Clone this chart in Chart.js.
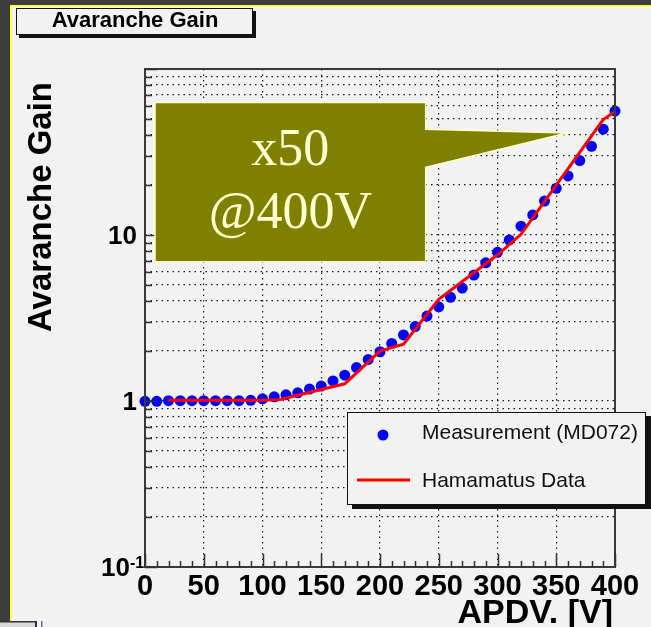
<!DOCTYPE html>
<html>
<head>
<meta charset="utf-8">
<script src="https://cdn.jsdelivr.net/npm/chart.js@4/dist/chart.umd.min.js"></script>
<style>
  html, body { margin: 0; padding: 0; background: #f2f2f2; overflow: hidden; }
  canvas { display: block; }
</style>
</head>
<body>
<canvas id="gainChart" width="651" height="627"></canvas>
<script>
// APD bias voltage [V] of each measured point
const voltages = [0, 10, 20, 30, 40, 50, 60, 70, 80, 90,
                  100, 110, 120, 130, 140, 150, 160, 170, 180, 190,
                  200, 210, 220, 230, 240, 250, 260, 270, 280, 290,
                  300, 310, 320, 330, 340, 350, 360, 370, 380, 390, 400];
// Measured avalanche gain (MD072)
const measuredGain = [0.995, 0.995, 1.005, 1.005, 1.005, 1.005, 1.005, 1.005, 1.005, 1.01,
                      1.03, 1.06, 1.09, 1.12, 1.18, 1.23, 1.32, 1.43, 1.59, 1.78,
                      1.98, 2.22, 2.5, 2.81, 3.25, 3.69, 4.21, 4.79, 5.74, 6.8,
                      7.87, 9.33, 11.3, 13.2, 16.0, 19.1, 22.7, 28.1, 34.2, 43.4, 55.8];
// Manufacturer reference curve
const hamaVoltage = [20, 50, 100, 115, 170, 200, 220, 250, 300, 320, 390, 400];
const hamaGain = [1.01, 1.01, 1.01, 1.02, 1.27, 2.0, 2.2, 4.1, 7.6, 10.1, 49.6, 55.5];

// Axis ticks
const xTickValues = [0, 50, 100, 150, 200, 250, 300, 350, 400];
const xMinorTickValues = [10, 20, 30, 40, 60, 70, 80, 90, 110, 120, 130, 140, 160, 170, 180, 190,
                          210, 220, 230, 240, 260, 270, 280, 290, 310, 320, 330, 340, 360, 370, 380, 390];
const yGridValues = [0.1, 0.2, 0.3, 0.4, 0.5, 0.6, 0.7, 0.8, 0.9,
                     1, 2, 3, 4, 5, 6, 7, 8, 9,
                     10, 20, 30, 40, 50, 60, 70, 80, 90, 100];
const yMajorValues = [0.1, 1, 10, 100];
const yTickLabels = [
  { value: 0.1, base: '10', sup: '-1' },
  { value: 1, base: '1', sup: '' },
  { value: 10, base: '10', sup: '' }
];

const plotTitle = 'Avaranche Gain';
const yAxisTitle = 'Avaranche Gain';
const xAxisTitle = 'APDV. [V]';
const calloutLines = ['x50', '@400V'];

const SANS = '"Liberation Sans", Arial, Helvetica, sans-serif';
const SERIF = '"Liberation Serif", "Times New Roman", serif';

const decorations = {
  id: 'decorations',
  beforeDraw(chart) {
    const ctx = chart.ctx;
    const W = chart.width, H = chart.height;
    ctx.save();
    // pad background and window edges
    ctx.fillStyle = '#f2f2f2';
    ctx.fillRect(0, 0, W, H);
    ctx.fillStyle = '#3d3d3d';
    ctx.fillRect(0, 0, W, 5);
    ctx.fillRect(0, 0, 10, H);
    ctx.fillStyle = '#ffff3a';
    ctx.fillRect(10, 5, W - 10, 2);
    ctx.fillRect(10, 5, 2, 617);
    // small widget in the lower-left corner
    ctx.fillStyle = '#d8d8d8';
    ctx.fillRect(0, 622, 36, 5);
    ctx.fillStyle = '#333';
    ctx.fillRect(0, 621, 37, 1.5);
    ctx.fillRect(35, 621, 2, 6);
    ctx.fillStyle = '#6a6aa8';
    ctx.fillRect(41, 621, 1.5, 6);

    // title box with shadow
    ctx.fillStyle = '#111';
    ctx.fillRect(19, 11, 237, 27);
    ctx.fillStyle = '#f2f2f2';
    ctx.fillRect(16, 8, 237, 27);
    ctx.strokeStyle = '#111';
    ctx.lineWidth = 1;
    ctx.strokeRect(16.5, 8.5, 236, 26);
    ctx.fillStyle = '#000';
    ctx.font = 'bold 22px ' + SANS;
    ctx.textAlign = 'center';
    ctx.textBaseline = 'alphabetic';
    ctx.fillText(plotTitle, 135, 27);
    ctx.restore();
  },
  afterDraw(chart) {
    const ctx = chart.ctx;
    const a = chart.chartArea;
    const xs = chart.scales.x, ys = chart.scales.y;
    ctx.save();

    // frame
    ctx.strokeStyle = '#3a3a3a';
    ctx.lineWidth = 2;
    ctx.strokeRect(a.left, a.top, a.right - a.left, a.bottom - a.top);

    // inward ticks
    ctx.strokeStyle = '#333';
    ctx.lineWidth = 1.5;
    ctx.beginPath();
    xTickValues.forEach(v => {
      const px = Math.round(xs.getPixelForValue(v)) + 0.5;
      ctx.moveTo(px, a.bottom); ctx.lineTo(px, a.bottom - 13);
    });
    xMinorTickValues.forEach(v => {
      const px = Math.round(xs.getPixelForValue(v)) + 0.5;
      ctx.moveTo(px, a.bottom); ctx.lineTo(px, a.bottom - 6);
    });
    yGridValues.forEach(v => {
      const py = Math.round(ys.getPixelForValue(v)) + 0.5;
      const len = yMajorValues.includes(v) ? 12 : 7;
      ctx.moveTo(a.left, py); ctx.lineTo(a.left + len, py);
    });
    ctx.stroke();

    // tick labels
    ctx.fillStyle = '#000';
    ctx.font = 'bold 29px ' + SANS;
    ctx.textAlign = 'center';
    ctx.textBaseline = 'alphabetic';
    xTickValues.forEach(v => {
      ctx.fillText(String(v), xs.getPixelForValue(v), 595);
    });
    yTickLabels.forEach(t => {
      const py = ys.getPixelForValue(t.value);
      if (t.sup) {
        ctx.font = 'bold 26px ' + SANS;
        ctx.textAlign = 'right';
        ctx.fillText(t.base, 130, py + 9.3);
        ctx.font = 'bold 16px ' + SANS;
        ctx.textAlign = 'left';
        ctx.fillText(t.sup, 130, py + 0.5);
      } else {
        ctx.font = 'bold 26px ' + SANS;
        ctx.textAlign = 'right';
        ctx.fillText(t.base, 137, py + 9.3);
      }
    });

    // axis titles
    ctx.font = 'bold 34px ' + SANS;
    ctx.textAlign = 'right';
    ctx.fillText(xAxisTitle, a.right - 2, 623);
    ctx.save();
    ctx.translate(51, 207);
    ctx.rotate(-Math.PI / 2);
    ctx.font = 'bold 33px ' + SANS;
    ctx.textAlign = 'center';
    ctx.fillText(yAxisTitle, 0, 0);
    ctx.restore();

    // callout box
    const L = a.left + 10, T = a.top + 33.5, R = a.left + 280.7, B = a.top + 192.7;
    ctx.beginPath();
    ctx.moveTo(L, T);
    ctx.lineTo(R, T);
    ctx.lineTo(R, a.top + 60.3);
    ctx.lineTo(a.left + 422, a.top + 64);
    ctx.lineTo(R, a.top + 98.3);
    ctx.lineTo(R, B);
    ctx.lineTo(L, B);
    ctx.closePath();
    ctx.fillStyle = '#808000';
    ctx.fill();
    ctx.strokeStyle = '#ffffc8';
    ctx.lineWidth = 1.5;
    ctx.stroke();
    ctx.fillStyle = '#ffffd0';
    ctx.font = '52px ' + SERIF;
    ctx.textAlign = 'center';
    ctx.fillText(calloutLines[0], (L + R) / 2, a.top + 96);
    ctx.fillText(calloutLines[1], (L + R) / 2, a.top + 159);

    // legend box with shadow
    const ds = chart.data.datasets;
    ctx.fillStyle = '#111';
    ctx.fillRect(352, 416, 299, 93);
    ctx.fillStyle = '#f2f2f2';
    ctx.fillRect(347, 412, 299, 93);
    ctx.strokeStyle = '#111';
    ctx.lineWidth = 1;
    ctx.strokeRect(347.5, 412.5, 298, 92);
    ctx.fillStyle = ds[0].backgroundColor;
    ctx.beginPath();
    ctx.arc(383, 435, 5.5, 0, Math.PI * 2);
    ctx.fill();
    ctx.strokeStyle = ds[1].borderColor;
    ctx.lineWidth = 3;
    ctx.beginPath();
    ctx.moveTo(357, 480); ctx.lineTo(410, 480);
    ctx.stroke();
    ctx.fillStyle = '#111';
    ctx.font = '21px ' + SANS;
    ctx.textAlign = 'left';
    ctx.fillText(ds[0].label, 422, 439);
    ctx.fillText(ds[1].label, 422, 487);

    ctx.restore();
  }
};

const gridStyle = { color: '#1a1a1a', lineWidth: 1.2, drawTicks: false };

new Chart(document.getElementById('gainChart'), {
  type: 'scatter',
  data: {
    datasets: [
      {
        type: 'scatter',
        label: 'Measurement (MD072)',
        data: voltages.map((v, i) => ({ x: v, y: measuredGain[i] })),
        backgroundColor: '#0000ff',
        borderColor: '#0000ff',
        pointRadius: 5.5,
        pointHoverRadius: 5.5,
        borderWidth: 0,
        clip: false,
        order: 1
      },
      {
        type: 'line',
        label: 'Hamamatus Data',
        data: hamaVoltage.map((v, i) => ({ x: v, y: hamaGain[i] })),
        borderColor: '#ff0000',
        backgroundColor: '#ff0000',
        borderWidth: 3,
        pointRadius: 0,
        tension: 0,
        fill: false,
        order: 0
      }
    ]
  },
  options: {
    responsive: false,
    animation: false,
    devicePixelRatio: 1,
    events: [],
    layout: { padding: { top: 69, right: 36, left: 0, bottom: 0 } },
    plugins: { legend: { display: false }, tooltip: { enabled: false }, title: { display: false } },
    scales: {
      x: {
        type: 'linear', min: 0, max: 400,
        afterBuildTicks: s => { s.ticks = xTickValues.map(v => ({ value: v })); },
        afterFit: s => { s.height = 60; },
        ticks: { display: false },
        grid: gridStyle,
        border: { display: false, dash: [1.5, 4] }
      },
      y: {
        type: 'logarithmic', min: 0.1, max: 100,
        afterBuildTicks: s => { s.ticks = yGridValues.map(v => ({ value: v })); },
        afterFit: s => { s.width = 145; },
        ticks: { display: false },
        grid: gridStyle,
        border: { display: false, dash: [1.5, 4] }
      }
    }
  },
  plugins: [decorations]
});
</script>
</body>
</html>
